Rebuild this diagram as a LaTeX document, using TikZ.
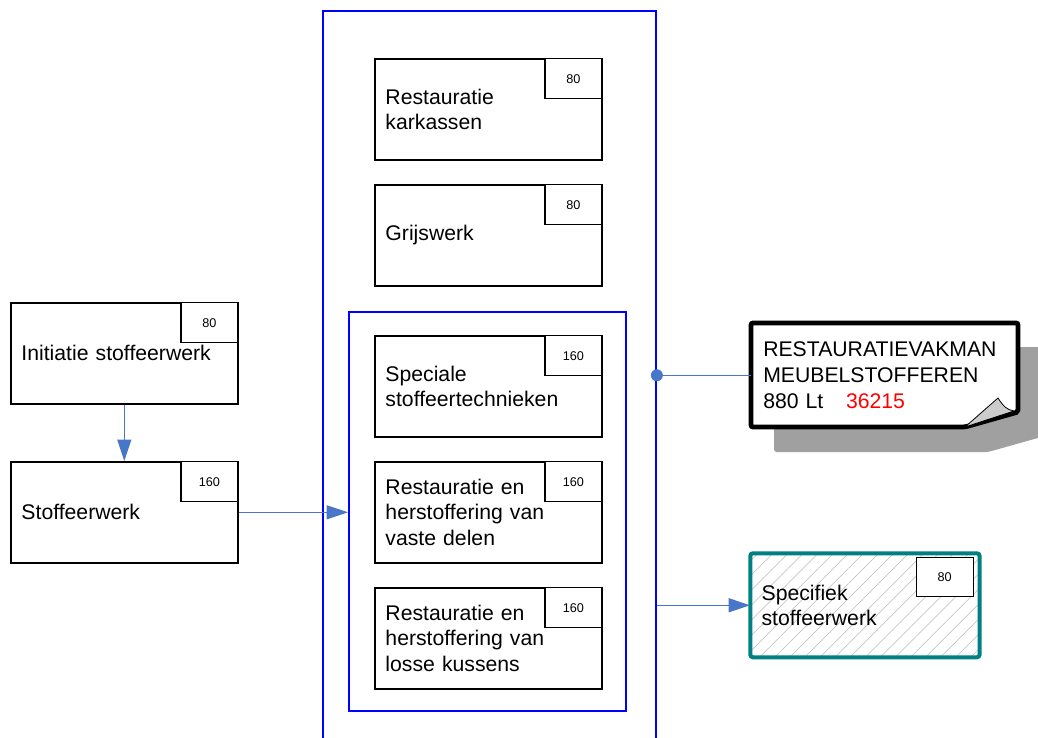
\documentclass[tikz,border=0pt]{standalone}
\usepackage{fontspec}
\setmainfont{Liberation Sans}
\usepackage{tikz}
\usetikzlibrary{arrows.meta,patterns.meta,calc}

\definecolor{kaderblauw}{RGB}{0,0,255}
\definecolor{pijlblauw}{RGB}{72,118,200}
\definecolor{eindgroen}{RGB}{0,128,128}
\definecolor{schaduw}{RGB}{160,160,160}

\tikzset{
  taak/.style={draw, line width=1.2pt, minimum width=170.25pt, minimum height=75.75pt,
    text width=154.25pt, inner xsep=8pt, align=left, font=\fontsize{15.9}{19.2}\selectfont},
  uren/.style={draw, fill=white, line width=1pt, minimum width=42.75pt, minimum height=30pt,
    inner sep=0pt, font=\fontsize{9.5}{11}\selectfont},
  kader/.style={draw=kaderblauw, line width=1.4pt, inner sep=0pt},
  pijl/.style={draw=pijlblauw, line width=0.8pt, -{Triangle[length=16pt,width=10.5pt,fill=pijlblauw]}},
}

\begin{document}
\begin{tikzpicture}[x=0.75pt,y=-0.75pt]
\useasboundingbox (0,0) rectangle (1038,738);

% blauwe kaders
\node[kader, minimum width=249.75pt, minimum height=570pt, anchor=north west] (groep) at (322,10) {};
\node[kader, minimum width=207.75pt, minimum height=299.25pt, anchor=north west] (kern) at (348,311) {};

% modules in de groep
\node[taak, anchor=north west] (karkas) at (374,58) {Restauratie\\karkassen};
\node[uren, anchor=north east] at (karkas.north east) {80};
\node[taak, anchor=north west] (grijs) at (374,184) {Grijswerk};
\node[uren, anchor=north east] at (grijs.north east) {80};
\node[taak, anchor=north west] (spec) at (374,335) {Speciale\\stoffeertechnieken};
\node[uren, anchor=north east] at (spec.north east) {160};
\node[taak, anchor=north west] (vast) at (374,461) {Restauratie en\\herstoffering van\\vaste delen};
\node[uren, anchor=north east] at (vast.north east) {160};
\node[taak, anchor=north west] (kussen) at (374,587) {Restauratie en\\herstoffering van\\losse kussens};
\node[uren, anchor=north east] at (kussen.north east) {160};

% instroom links
\node[taak, anchor=north west] (init) at (10,302) {Initiatie stoffeerwerk};
\node[uren, anchor=north east] at (init.north east) {80};
\node[taak, anchor=north west] (stof) at (10,461) {Stoffeerwerk};
\node[uren, anchor=north east] at (stof.north east) {160};

\draw[pijl] (init) -- (stof);
\draw[pijl] (stof.east) -- (stof.east -| kern.west);

% kwalificatie (notitie)
\fill[schaduw, rounded corners=2pt] (774,347) -- (1045,347) -- (1045,436) -- (988,452) -- (774,452) -- cycle;
\draw[line width=3.6pt, fill=white, rounded corners=1.5pt] (751,323) -- (1018,323) -- (1018,412) -- (965,427) -- (751,427) -- cycle;
\draw[line width=0.6pt, fill=gray!40] (965,427) -- (998,398) .. controls (1003,406) and (1007,410) .. (1014,411) -- cycle;
\node[anchor=north west, minimum width=200.25pt, minimum height=78pt, text width=184pt, inner xsep=9pt,
  align=left, font=\fontsize{15.9}{19.2}\selectfont] (noot) at (751,323)
  {RESTAURATIEVAKMAN\\MEUBELSTOFFEREN\\880 Lt\hspace{17pt}\textcolor{red}{36215}};

\coordinate (punt) at (groep.east |- noot.west);
\fill[pijlblauw] (punt) circle[radius=4.5pt];
\draw[draw=pijlblauw, line width=0.8pt] (punt) -- (noot.west);

% uitstroom
\node[anchor=north west, draw=eindgroen, line width=3pt, rounded corners=2pt,
  pattern={Lines[angle=45,distance=8pt,line width=0.4pt]}, pattern color=gray!55,
  minimum width=171.75pt, minimum height=78pt, text width=155pt, inner xsep=8.5pt,
  align=left, font=\fontsize{15.9}{19.2}\selectfont] (eind) at (750,553) {Specifiek\\stoffeerwerk};
\node[uren, anchor=north east, minimum height=29.25pt] at ($(eind.north east)+(-6,4)$) {80};
\draw[pijl] (groep.east |- eind.west) -- (eind.west);

\end{tikzpicture}
\end{document}
